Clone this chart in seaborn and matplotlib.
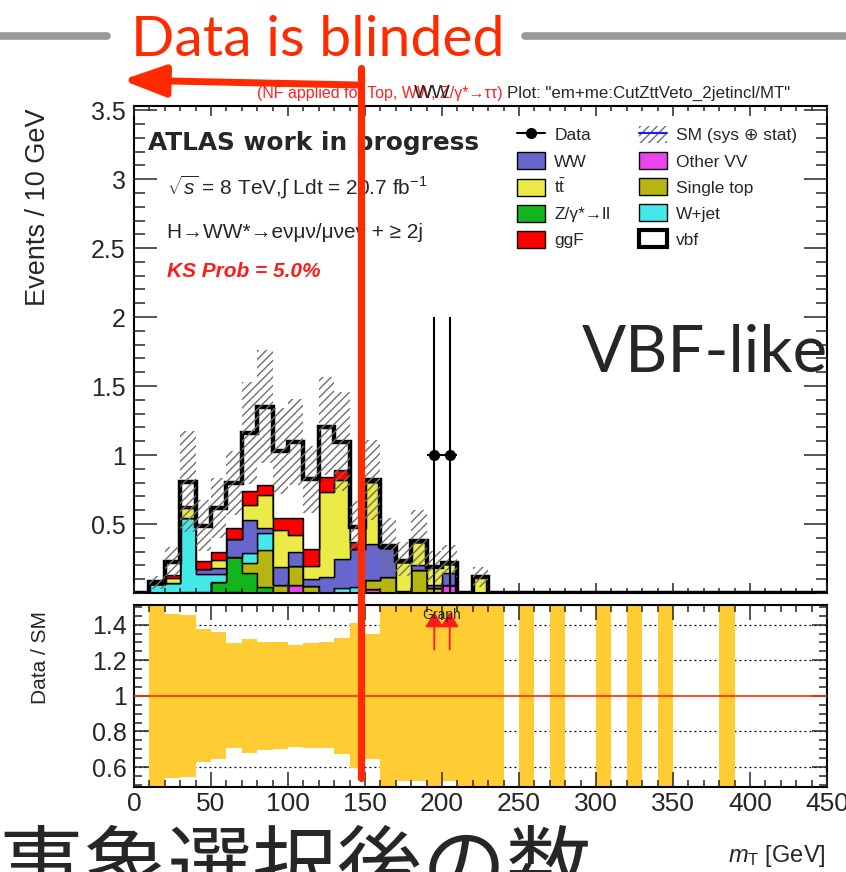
import numpy as np
import pandas as pd
import matplotlib
matplotlib.use("Agg")
import matplotlib.pyplot as plt
import seaborn as sns
from matplotlib.patches import Patch, FancyArrowPatch
from matplotlib.lines import Line2D
from matplotlib.ticker import MultipleLocator, FuncFormatter

# ---------------- data ----------------
bin_lo = [0, 10, 20, 30, 40, 50, 60, 70, 80, 90, 100, 110,
          120, 130, 140, 150, 160, 170, 180, 190, 200, 210, 220, 230]
other_vv   = [0, 0, 0, 0, 0, 0, 0.010, 0, 0, 0, 0.058, 0,
              0, 0, 0, 0.027, 0, 0, 0, 0, 0.058, 0, 0, 0]
z_ll       = [0, 0, 0, 0, 0.010, 0.082, 0.253, 0.143, 0.046, 0, 0, 0,
              0, 0, 0, 0, 0, 0, 0, 0, 0, 0, 0, 0]
single_top = [0, 0, 0, 0.010, 0, 0, 0, 0.072, 0.266, 0.058, 0.138, 0.051,
              0, 0, 0, 0.067, 0.118, 0, 0.167, 0.035, 0, 0, 0, 0]
w_jet      = [0, 0.063, 0.070, 0.531, 0.125, 0.053, 0, 0.073, 0.120, 0, 0, 0,
              0, 0.034, 0.040, 0, 0, 0, 0, 0, 0, 0, 0, 0]
ww         = [0, 0, 0, 0, 0.037, 0.044, 0.126, 0.241, 0.037, 0.132, 0.104, 0.048,
              0.114, 0.210, 0.277, 0.261, 0.206, 0.015, 0.036, 0.023, 0.084, 0, 0, 0]
ttbar      = [0, 0, 0.036, 0.073, 0, 0.060, 0, 0.109, 0.241, 0.267, 0.120, 0.097,
              0.620, 0.575, 0, 0.452, 0, 0.212, 0.167, 0.127, 0.068, 0, 0.116, 0]
ggf        = [0, 0, 0.024, 0.016, 0.060, 0.056, 0.084, 0.101, 0.073, 0.089, 0.121, 0.120,
              0.109, 0.072, 0.055, 0, 0, 0, 0, 0, 0, 0, 0, 0]
vbf        = [0, 0.014, 0.097, 0.177, 0.256, 0.319, 0.322, 0.418, 0.567, 0.484, 0.555, 0.510,
              0.362, 0.205, 0.103, 0.013, 0.016, 0.005, 0.007, 0.005, 0.007, 0, 0, 0]

# relative SM uncertainty (up / down) per bin; nan = no band
sm_err_up = [np.nan, 0.60, 0.460, 0.455, 0.375, 0.358, 0.296, 0.320, 0.305, 0.300, 0.283, 0.294,
             0.300, 0.327, 0.408, 0.350, 0.60, 0.60, 0.60, 0.60, 0.60, 0.60, 0.60, 0.60]
sm_err_dn = [np.nan, 0.60, 0.460, 0.453, 0.373, 0.356, 0.292, 0.320, 0.303, 0.300, 0.285, 0.295,
             0.290, 0.324, 0.403, 0.355, 0.60, 0.48, 0.48, 0.60, 0.48, 0.60, 0.60, 0.60]
# further bins with (tiny) MC and full ratio band
extra_band_lo = [250, 270, 300, 320, 340, 380]
extra_band_err = [0.60, 0.60, 0.60, 0.60, 0.60, 0.60]

data_x = [195, 205]
data_y = [1.0, 1.0]
data_err = [1.0, 1.0]

x_ticks = [0, 50, 100, 150, 200, 250, 300, 350, 400, 450]
y_ticks_top = [0.5, 1, 1.5, 2, 2.5, 3, 3.5]
y_ticks_ratio = [0.6, 0.8, 1.0, 1.2, 1.4]

proc_names = ["vbf", "ggF", "tt", "WW", "W+jet", "Single top", "Z/γ*→ll", "Other VV"]
proc_colors = {"vbf": "#ffffff", "ggF": "#ff0000", "tt": "#ebeb48", "WW": "#6666cc",
               "W+jet": "#45e8e8", "Single top": "#b7b514", "Z/γ*→ll": "#12b51e",
               "Other VV": "#ec44ec"}
proc_values = {"vbf": vbf, "ggF": ggf, "tt": ttbar, "WW": ww, "W+jet": w_jet,
               "Single top": single_top, "Z/γ*→ll": z_ll, "Other VV": other_vv}

# ---------------- style ----------------
sns.set_style("ticks")
plt.rcParams["font.family"] = ["Liberation Sans", "DejaVu Sans"]
plt.rcParams["mathtext.fontset"] = "custom"
plt.rcParams["mathtext.rm"] = "Liberation Sans"
plt.rcParams["mathtext.it"] = "Liberation Sans:italic"
plt.rcParams["mathtext.bf"] = "Liberation Sans:bold"
plt.rcParams["hatch.linewidth"] = 1.0

W, H = 846, 872
fig = plt.figure(figsize=(W / 100, H / 100), dpi=100)


def fx(x):
    return x / W


def fy(y):
    return 1 - y / H


ax1 = fig.add_axes([fx(134), fy(593), 693 / W, 487 / H])
ax2 = fig.add_axes([fx(134), fy(786.7), 693 / W, 181.7 / H])

centers = np.array(bin_lo) + 5

# ---------------- stacked histogram (seaborn) ----------------
df = pd.DataFrame({
    "mT": np.tile(centers, len(proc_names)).astype(float),
    "w": np.concatenate([np.asarray(proc_values[p], float) for p in proc_names]),
    "proc": np.repeat(proc_names, len(centers)),
})
sns.histplot(data=df, x="mT", weights="w", hue="proc", hue_order=proc_names,
             multiple="stack", element="step", binwidth=10, binrange=(0, 240),
             palette=proc_colors, alpha=1, edgecolor="black", linewidth=1.0,
             legend=False, ax=ax1)

total = np.sum([np.array(proc_values[p]) for p in proc_names], axis=0)
total_full = np.concatenate([total, np.zeros(21)])
ax1.stairs(total_full, np.arange(0, 460, 10), color="black", lw=3.2,
           baseline=None, zorder=4)

up = np.nan_to_num(np.array(sm_err_up))
dn = np.nan_to_num(np.array(sm_err_dn))
ax1.bar(centers, total * (up + dn), bottom=total * (1 - dn), width=10,
        facecolor="none", edgecolor="#6e6e6e", hatch="////", linewidth=0, zorder=5)

ax1.errorbar(data_x, data_y, yerr=data_err, xerr=5, fmt="o", color="black",
             ms=7, lw=1.5, capsize=0, zorder=10)

ax1.set_xlim(0, 450)
ax1.set_ylim(0, 3.53)
ax1.set_yticks(y_ticks_top)
ax1.set_yticklabels([f"{v:g}" for v in y_ticks_top])
ax1.yaxis.set_minor_locator(MultipleLocator(0.1))
ax1.set_xticks(x_ticks)
ax1.xaxis.set_minor_locator(MultipleLocator(10))
ax1.tick_params(axis="x", which="both", direction="in", top=True, bottom=True,
                labelbottom=False, width=1.1)
ax1.tick_params(axis="x", which="major", length=7.5)
ax1.tick_params(axis="x", which="minor", length=3.8)
ax1.tick_params(axis="y", which="both", direction="in", left=True, right=True,
                labelsize=18, pad=6, width=1.1)
ax1.tick_params(axis="y", which="major", length=16.5)
ax1.tick_params(axis="y", which="minor", length=8)
ax1.set_xlabel("")
ax1.set_ylabel("")

# legend
leg_handles = [
    Line2D([], [], color="black", marker="o", ms=7, lw=1.5),
    Patch(facecolor=proc_colors["WW"], edgecolor="black", lw=1),
    Patch(facecolor=proc_colors["tt"], edgecolor="black", lw=1),
    Patch(facecolor=proc_colors["Z/γ*→ll"], edgecolor="black", lw=1),
    Patch(facecolor=proc_colors["ggF"], edgecolor="black", lw=1),
    (Patch(facecolor="none", edgecolor="#6e6e6e", hatch="////", lw=0),
     Line2D([], [], color="#1a1aff", lw=1.5)),
    Patch(facecolor=proc_colors["Other VV"], edgecolor="black", lw=1),
    Patch(facecolor=proc_colors["Single top"], edgecolor="black", lw=1),
    Patch(facecolor=proc_colors["W+jet"], edgecolor="black", lw=1),
    Patch(facecolor="white", edgecolor="black", lw=3),
]
leg_labels = ["Data", "WW", r"t$\bar{\mathrm{t}}$", "Z/γ*→ll", "ggF",
              "SM (sys ⊕ stat)", "Other VV", "Single top", "W+jet", "vbf"]
ax1.legend(leg_handles, leg_labels, ncol=2, loc="upper left",
           bbox_to_anchor=(fx(517), fy(126)), bbox_transform=fig.transFigure,
           frameon=False, borderpad=0, borderaxespad=0, fontsize=12.5,
           handlelength=1.6, handleheight=1.15, labelspacing=0.49,
           handletextpad=0.55, columnspacing=1.65)

# texts inside the top panel
fig.text(fx(148), fy(150), "ATLAS work in progress", fontsize=17.8,
         fontweight="bold", family=["DejaVu Sans"], va="baseline")
fig.text(fx(167), fy(195), r"$\sqrt{s}$ = 8 TeV,$\int$ Ldt = 20.7 fb$^{-1}$",
         fontsize=15, va="baseline")
fig.text(fx(167), fy(238), "H→WW*→eνμν/μνeν + ≥ 2j", fontsize=15, va="baseline")
fig.text(fx(167), fy(277), "KS Prob = 5.0%", fontsize=15, color="#ff1a1a",
         fontweight="bold", fontstyle="italic", va="baseline")

# ---------------- ratio panel ----------------
for v in [0.6, 0.8, 1.2, 1.4]:
    ax2.axhline(v, color="black", lw=0.9, ls=(0, (1.5, 2.5)), zorder=1)

band_x = [c for c, u in zip(centers, sm_err_up) if not np.isnan(u)]
band_up = [u for u in sm_err_up if not np.isnan(u)]
band_dn = [d for d in sm_err_dn if not np.isnan(d)]
band_x += [b + 5 for b in extra_band_lo]
band_up += extra_band_err
band_dn += extra_band_err
band_up = np.array(band_up)
band_dn = np.array(band_dn)
ax2.bar(band_x, band_up + band_dn, bottom=1 - band_dn, width=10,
        color="#ffcc33", linewidth=0, zorder=2)
ax2.axhline(1.0, color="#ff2a00", lw=1.2, zorder=3)

for xd in data_x:
    ax2.add_patch(FancyArrowPatch((xd, 1.26), (xd, 1.47),
                                  arrowstyle="-|>,head_length=0.9,head_width=0.55",
                                  mutation_scale=10, color="#ff1a1a", lw=1.3,
                                  shrinkA=0, shrinkB=0, zorder=6))
ax2.text(200, 1.495, "Graph", fontsize=10, ha="center", va="top", zorder=7)

ax2.set_xlim(0, 450)
ax2.set_ylim(0.49, 1.51)
ax2.set_xticks(x_ticks)
ax2.set_xticklabels([str(v) for v in x_ticks])
ax2.xaxis.set_minor_locator(MultipleLocator(10))
ax2.set_yticks(y_ticks_ratio)
ax2.yaxis.set_major_formatter(FuncFormatter(lambda v, p: f"{v:g}"))
ax2.yaxis.set_minor_locator(MultipleLocator(0.05))
ax2.tick_params(axis="both", which="both", direction="in", top=True, right=True,
                width=1.1)
ax2.tick_params(axis="x", which="major", length=10.5, labelsize=19, pad=4)
ax2.tick_params(axis="x", which="minor", length=5)
ax2.tick_params(axis="y", which="major", length=10.5, labelsize=18, pad=5)
ax2.tick_params(axis="y", which="minor", length=5.5)

for ax in (ax1, ax2):
    for s in ax.spines.values():
        s.set_linewidth(1.5)
        s.set_color("black")
    ax.set_axisbelow(False)

# axis titles
fig.text(fx(38), fy(108), "Events / 10 GeV", rotation=90, fontsize=19.5,
         ha="center", va="top")
fig.text(fx(40), fy(611), "Data / SM", rotation=90, fontsize=15,
         ha="center", va="top")
fig.text(fx(826), fy(862), r"$m_{\mathrm{T}}$ [GeV]", fontsize=17,
         ha="right", va="baseline")

# ---------------- slide overlay ----------------
red = "#ff2a00"
fig.add_artist(Line2D([0, fx(107)], [fy(36), fy(36)], color="#9a9a9a", lw=5.5))
fig.add_artist(Line2D([fx(525), 1], [fy(36), fy(36)], color="#9a9a9a", lw=5.5))
fig.text(fx(318), fy(56), "Data is blinded", fontsize=41, color=red,
         family=["Lato", "DejaVu Sans"], ha="center", va="baseline")

fig.text(fx(503), fy(98), "(NF applied for Top, WW, Z/γ*→ττ)", fontsize=11.5,
         color="#ff2020", ha="right", va="baseline")
fig.text(fx(432), fy(98), "WW", fontsize=14, ha="center", va="baseline", zorder=20)
fig.text(fx(507), fy(98), 'Plot: "em+me:CutZttVeto_2jetincl/MT"', fontsize=12.2,
         ha="left", va="baseline")

fig.text(fx(582), fy(372), "VBF-like", fontsize=47, family=["Lato", "DejaVu Sans"],
         ha="left", va="baseline", zorder=20)

fig.add_artist(Line2D([fx(361), fx(361)], [fy(68), fy(778)], color=red, lw=5.2,
                      zorder=30))
fig.add_artist(FancyArrowPatch((fx(358), fy(85)), (fx(122), fy(80)),
                               transform=fig.transFigure,
                               arrowstyle="-|>,head_length=2.6,head_width=0.95",
                               mutation_scale=10, color=red, lw=5, shrinkA=0,
                               shrinkB=0, zorder=30))

fig.text(fx(592), fy(896), "事象選択後の数", fontsize=61,
         family=["Noto Sans CJK JP", "DejaVu Sans"], ha="right", va="baseline")

fig.savefig("out.png", dpi=100)
